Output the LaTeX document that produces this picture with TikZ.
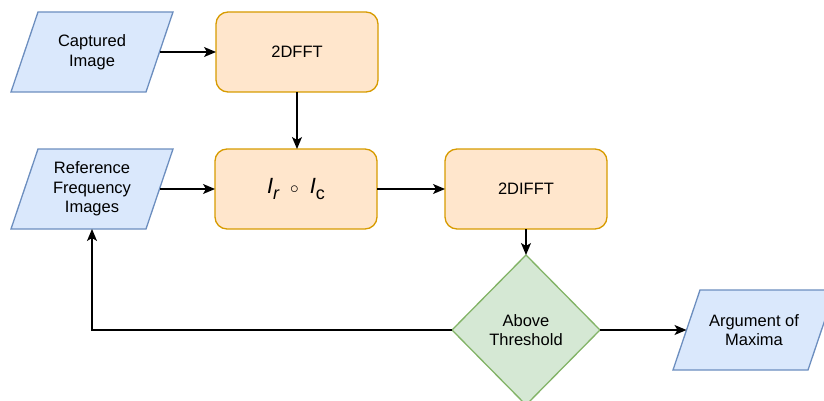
\documentclass[tikz,border=0pt]{standalone}
\usepackage{fontspec}
\setmainfont{Liberation Sans}
\usetikzlibrary{shapes.geometric,arrows.meta,backgrounds,calc}
\definecolor{bfill}{HTML}{DAE8FC}
\definecolor{bdraw}{HTML}{6C8EBF}
\definecolor{ofill}{HTML}{FFE6CC}
\definecolor{odraw}{HTML}{D79B00}
\definecolor{gfill}{HTML}{D5E8D4}
\definecolor{gdraw}{HTML}{82B366}
\tikzset{
  base/.style={inner sep=0pt, outer sep=0pt, align=center, font=\fontsize{16.5}{19.5}\selectfont},
  para/.style={base, minimum width=135, minimum height=80},
  parashape/.style={fill=bfill, draw=bdraw, line width=1.3pt, line join=miter},
  procbox/.style={base, rectangle, rounded corners=12pt, fill=ofill, draw=odraw, line width=1.3pt, minimum width=162, minimum height=80},
  decide/.style={base, diamond, aspect=1, fill=gfill, draw=gdraw, line width=1.3pt, minimum width=148, minimum height=150},
  conn/.style={line width=1.3pt, -{Stealth[length=12pt, width=10pt, inset=3pt]}}
}
\newcommand{\paraback}[1]{%
  \draw[parashape] ([xshift=-13.5pt]#1.south west) -- ([xshift=-13.5pt]#1.south east)
    -- ([xshift=13.5pt]#1.north east) -- ([xshift=13.5pt]#1.north west) -- cycle;}
\begin{document}
\begin{tikzpicture}[x=1pt, y=1pt]
\useasboundingbox (0,0) rectangle (824,-401);
\node[para] (cap) at (92,-52) {Captured\\Image};
\node[para] (ref) at (92,-189) {Reference\\Frequency\\Images};
\node[para] (arg) at (754,-330) {Argument of\\Maxima};
\node[procbox] (fft) at (297,-52) {2DFFT};
\node[procbox] (had) at (296,-189) {\fontsize{22}{24}\selectfont\itshape I\raisebox{-0.25em}{\fontsize{18}{20}\selectfont r}\hspace{0.5em}{\fontsize{18}{20}\selectfont$\circ$}\hspace{0.5em}I\raisebox{-0.25em}{\fontsize{18}{20}\selectfont\upshape c}};
\node[procbox] (ifft) at (526,-189) {2DIFFT};
\node[decide] (dia) at (526,-330) {Above\\Threshold};
\begin{scope}[on background layer]
\paraback{cap}
\paraback{ref}
\paraback{arg}
\end{scope}
\draw[conn] (cap.east) -- (fft.west);
\draw[conn] (fft.south) -- (fft.south |- had.north);
\draw[conn] (ref.east) -- (had.west);
\draw[conn] (had.east) -- (ifft.west);
\draw[conn] (ifft.south) -- (dia.north);
\draw[conn] (dia.west) -| (ref.south);
\draw[conn] (dia.east) -- (arg.west);
\end{tikzpicture}
\end{document}
